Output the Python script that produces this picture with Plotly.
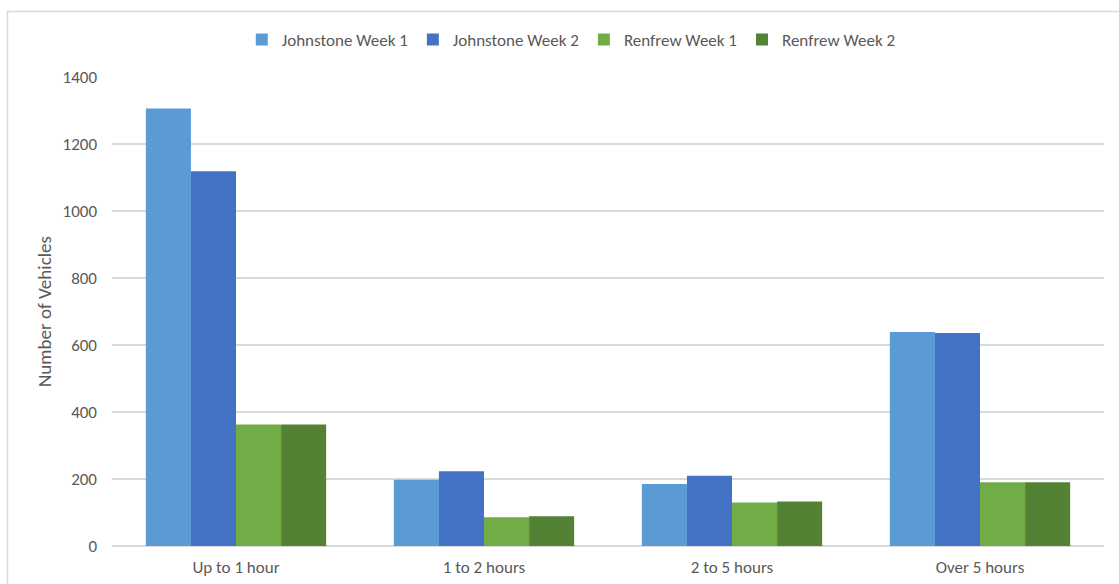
import plotly.graph_objects as go

# Parking duration survey: vehicles counted per stay length
categories = ["Up to 1 hour", "1 to 2 hours", "2 to 5 hours", "Over 5 hours"]
johnstone_week1 = [1306, 198, 185, 639]
johnstone_week2 = [1119, 223, 210, 636]
renfrew_week1 = [363, 86, 130, 190]
renfrew_week2 = [363, 89, 133, 190]

series = [
    ("Johnstone Week 1", johnstone_week1, "#5B9BD5"),
    ("Johnstone Week 2", johnstone_week2, "#4472C4"),
    ("Renfrew Week 1", renfrew_week1, "#70AD47"),
    ("Renfrew Week 2", renfrew_week2, "#548235"),
]

FONT = "Carlito, Lato, 'Open Sans', sans-serif"
TEXT_GREY = "#595959"
SIZE = 17

fig = go.Figure()
for name, values, color in series:
    fig.add_trace(go.Bar(
        name=name,
        x=categories,
        y=values,
        marker=dict(color=color, line=dict(width=0)),
    ))

fig.update_layout(
    width=1119,
    height=584,
    barmode="group",
    bargap=0.273,
    bargroupgap=0,
    plot_bgcolor="white",
    paper_bgcolor="white",
    margin=dict(l=112, r=15, t=77, b=38),
    font=dict(family=FONT, size=SIZE, color=TEXT_GREY),
    legend=dict(
        orientation="h",
        x=0.463,
        xanchor="center",
        y=1.0 + (77 - 40) / 469,
        yanchor="middle",
        font=dict(family=FONT, size=SIZE, color=TEXT_GREY),
        itemwidth=30,
        traceorder="normal",
    ),
    xaxis=dict(
        automargin=False,
        showgrid=False,
        showline=False,
        ticks="",
        ticklabelstandoff=9,
        tickfont=dict(family=FONT, size=SIZE, color=TEXT_GREY),
    ),
    yaxis=dict(
        automargin=True,
        range=[0, 1400],
        dtick=200,
        showgrid=True,
        gridcolor="#D9D9D9",
        gridwidth=1.5,
        zeroline=True,
        zerolinecolor="#D9D9D9",
        zerolinewidth=1.5,
        ticks="",
        ticklabelstandoff=14,
        tickfont=dict(family=FONT, size=SIZE, color=TEXT_GREY),
        title=dict(
            text="Number of Vehicles",
            font=dict(family=FONT, size=19, color=TEXT_GREY),
            standoff=5,
        ),
    ),
    shapes=[
        # outer chart frame (top and left edges visible)
        dict(
            type="rect",
            xref="paper", yref="paper",
            x0=(7.5 - 112) / 992, x1=(1130 - 112) / 992,
            y0=-(600 - 546) / 469, y1=1.0 + (77 - 11.5) / 469,
            line=dict(color="#D9D9D9", width=1.5),
            fillcolor="rgba(0,0,0,0)",
            layer="below",
        )
    ],
)

fig.write_html("out.html")
